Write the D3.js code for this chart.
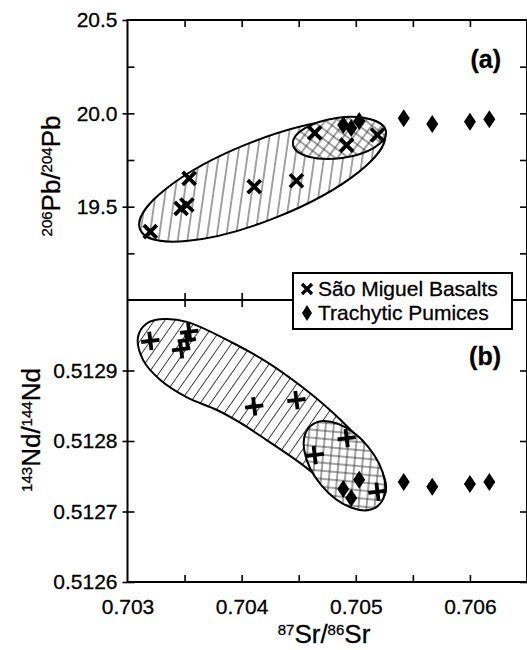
<!DOCTYPE html>
<html>
<head>
<meta charset="utf-8">
<script src="https://cdn.jsdelivr.net/npm/d3@7"></script>
<style>
  body { margin: 0; background: #fff; }
  svg { display: block; font-family: "Liberation Sans", Arial, sans-serif; }
  svg text { stroke: #000; stroke-width: 0.3px; }
</style>
</head>
<body>
<div id="chart"></div>
<script>
// ---- data ----
// Sao Miguel basalts (same samples in both panels)
const basaltSr = [0.70320, 0.70347, 0.70352, 0.70354, 0.70411, 0.70448, 0.70464, 0.70492, 0.70519];
const basaltPb = [19.366, 19.491, 19.509, 19.652, 19.607, 19.639, 19.895, 19.830, 19.884];
const basaltNd = [0.512942, 0.512930, 0.512943, 0.512955, 0.512849, 0.512858, 0.512780, 0.512804, 0.512728];

// trachytic pumices
const pumiceSr = [0.70489, 0.70496, 0.70503, 0.70542, 0.70567, 0.70600, 0.70617];
const pumicePb = [19.938, 19.921, 19.959, 19.973, 19.943, 19.955, 19.968];
const pumiceNd = [0.512732, 0.512719, 0.512745, 0.512742, 0.512735, 0.512739, 0.512742];

// ticks
const srTicks = [0.703, 0.704, 0.705, 0.706];
const srAllTicks = [0.7035, 0.704, 0.7045, 0.705, 0.7055, 0.706];
const pbTicks = [19.5, 20.0, 20.5];
const pbAllTicks = [19.25, 19.5, 19.75, 20.0, 20.25];
const ndTicks = [0.5126, 0.5127, 0.5128, 0.5129];

// fields: centre, end of long axis (data units) and axis ratio
const pbFieldBasalt = {cx: 0.70418, cy: 19.64, ex: 0.70525, ey: 19.902, ratio: 0.3};
const pbFieldPumice = {cx: 0.704857, cy: 19.868, ex: 0.705265, ey: 19.9027, ratio: 0.43};
const ndFieldPumice = {cx: 0.704901, cy: 0.512765, ex: 0.705194, ey: 0.512708, ratio: 0.58};
// basalt field in (b) is bent, so it is kept as an outline
const ndFieldSr = [0.703092, 0.703171, 0.703311, 0.703521, 0.703924, 0.704222, 0.704511, 0.704800, 0.705037, 0.705212, 0.705265,
                   0.705238, 0.705151, 0.704976, 0.704800, 0.704511, 0.704222, 0.703986, 0.703784, 0.703521, 0.703285, 0.703136];
const ndFieldNd = [0.5129475, 0.512967, 0.512973, 0.512969, 0.512939, 0.512912, 0.512879, 0.512840, 0.512801, 0.512763, 0.512735,
                   0.512719, 0.512712, 0.512719, 0.512733, 0.512769, 0.512801, 0.512826, 0.512844, 0.512862, 0.512887, 0.512915];

const legendLabels = ["São Miguel Basalts", "Trachytic Pumices"];

// ---- chart ----
const width = 527, height = 650;
const left = 127.5, right = 527, topA = 20, mid = 300, bottomB = 582;

const x = d3.scaleLinear().domain([0.703, 0.7065]).range([left, right]);
const yA = d3.scaleLinear().domain([19.0, 20.5]).range([mid, topA]);
const yB = d3.scaleLinear().domain([0.5126, 0.5130]).range([bottomB, mid]);

const svg = d3.select("#chart").append("svg")
    .attr("width", width)
    .attr("height", height);

svg.append("rect").attr("width", width).attr("height", height).attr("fill", "#fff");

// hatch patterns
const defs = svg.append("defs");
function hatch(id, size, angle, both) {
    const p = defs.append("pattern")
        .attr("id", id)
        .attr("patternUnits", "userSpaceOnUse")
        .attr("width", size).attr("height", size)
        .attr("patternTransform", "rotate(" + angle + ")");
    p.append("line").attr("x1", size / 2).attr("x2", size / 2).attr("y1", 0).attr("y2", size)
        .attr("stroke", "#333").attr("stroke-width", 0.9);
    if (both) {
        p.append("line").attr("y1", size / 2).attr("y2", size / 2).attr("x1", 0).attr("x2", size)
            .attr("stroke", "#333").attr("stroke-width", 0.9);
    }
}
hatch("hatchA", 9.5, 30, false);
hatch("hatchB", 8.5, 35, false);
hatch("cross", 8, 45, true);

function ellipse(g, f, ys, pattern) {
    const cx = x(f.cx), cy = ys(f.cy), ex = x(f.ex), ey = ys(f.ey);
    const a = Math.hypot(ex - cx, ey - cy);
    const ang = Math.atan2(ey - cy, ex - cx) * 180 / Math.PI;
    const t = "rotate(" + ang + "," + cx + "," + cy + ")";
    g.append("ellipse").attr("cx", cx).attr("cy", cy).attr("rx", a).attr("ry", a * f.ratio)
        .attr("transform", t).attr("fill", "#fff");
    g.append("ellipse").attr("cx", cx).attr("cy", cy).attr("rx", a).attr("ry", a * f.ratio)
        .attr("transform", t).attr("fill", "url(#" + pattern + ")")
        .attr("stroke", "#000").attr("stroke-width", 2);
}

const fields = svg.append("g");

// panel (a) fields
ellipse(fields, pbFieldBasalt, yA, "hatchA");
ellipse(fields, pbFieldPumice, yA, "cross");

// panel (b) fields
const outline = ndFieldSr.map((d, i) => [x(d), yB(ndFieldNd[i])]);
fields.append("path").attr("d", d3.line().curve(d3.curveCatmullRomClosed)(outline)).attr("fill", "#fff");
fields.append("path").attr("d", d3.line().curve(d3.curveCatmullRomClosed)(outline))
    .attr("fill", "url(#hatchB)").attr("stroke", "#000").attr("stroke-width", 2);
ellipse(fields, ndFieldPumice, yB, "cross");

// markers
const crossPath = "M-6.5,-6.5L6.5,6.5M-6.5,6.5L6.5,-6.5";
const diamondPath = "M0,-9L6,0L0,9L-6,0Z";

const pts = svg.append("g");
pts.selectAll(".dia-a").data(pumiceSr).enter().append("path")
    .attr("class", "dia-a")
    .attr("d", diamondPath)
    .attr("transform", (d, i) => "translate(" + x(d) + "," + yA(pumicePb[i]) + ")")
    .attr("fill", "#000");
pts.selectAll(".dia-b").data(pumiceSr).enter().append("path")
    .attr("class", "dia-b")
    .attr("d", diamondPath)
    .attr("transform", (d, i) => "translate(" + x(d) + "," + yB(pumiceNd[i]) + ")")
    .attr("fill", "#000");
pts.selectAll(".x-a").data(basaltSr).enter().append("path")
    .attr("class", "x-a")
    .attr("d", crossPath)
    .attr("transform", (d, i) => "translate(" + x(d) + "," + yA(basaltPb[i]) + ")")
    .attr("stroke", "#000").attr("stroke-width", 3.8).attr("fill", "none");
pts.selectAll(".x-b").data(basaltSr).enter().append("path")
    .attr("class", "x-b")
    .attr("d", crossPath)
    .attr("transform", (d, i) => "translate(" + x(d) + "," + yB(basaltNd[i]) + ") rotate(38)")
    .attr("stroke", "#000").attr("stroke-width", 3.8).attr("fill", "none");

// axes
function axis(gen, tx, ty) {
    const g = svg.append("g").attr("transform", "translate(" + tx + "," + ty + ")").call(gen);
    g.select(".domain").remove();
    g.selectAll("line").attr("stroke", "#000").attr("stroke-width", 1.6);
    g.selectAll("text").attr("font-size", 21).attr("fill", "#000")
        .attr("font-family", "'Liberation Sans', Arial, sans-serif");
    return g;
}
// x ticks (inward), both panels
axis(d3.axisTop(x).tickValues(srAllTicks).tickSize(-7).tickFormat(""), 0, topA);
axis(d3.axisBottom(x).tickValues(srAllTicks).tickSize(-7).tickFormat(""), 0, mid);
axis(d3.axisTop(x).tickValues(srAllTicks).tickSize(-7).tickFormat(""), 0, mid);
axis(d3.axisBottom(x).tickValues(srAllTicks).tickSize(-7).tickFormat(""), 0, bottomB);
axis(d3.axisBottom(x).tickValues(srTicks).tickSize(0).tickPadding(17).tickFormat(d3.format(".3f")), 0, bottomB);

// y panel (a)
axis(d3.axisLeft(yA).tickValues(pbAllTicks).tickSize(-7).tickFormat(""), left, 0);
axis(d3.axisLeft(yA).tickValues(pbTicks).tickSize(5).tickPadding(5).tickFormat(d3.format(".1f")), left, 0);
axis(d3.axisRight(yA).tickValues(pbAllTicks).tickSize(-7).tickFormat(""), right, 0);

// y panel (b)
axis(d3.axisLeft(yB).tickValues(ndTicks).tickSize(-7).tickFormat(""), left, 0);
axis(d3.axisLeft(yB).tickValues(ndTicks).tickSize(5).tickPadding(5).tickFormat(d3.format(".4f")), left, 0);
axis(d3.axisRight(yB).tickValues(ndTicks).tickSize(-7).tickFormat(""), right, 0);

// frame
const frame = svg.append("g").attr("stroke", "#000").attr("stroke-width", 2).attr("fill", "none");
frame.append("line").attr("x1", left).attr("x2", right).attr("y1", topA).attr("y2", topA);
frame.append("line").attr("x1", left).attr("x2", right).attr("y1", mid).attr("y2", mid);
frame.append("line").attr("x1", left).attr("x2", right).attr("y1", bottomB).attr("y2", bottomB);
frame.append("line").attr("x1", left).attr("x2", left).attr("y1", topA - 1).attr("y2", bottomB + 1);
frame.append("line").attr("x1", right).attr("x2", right).attr("y1", topA).attr("y2", bottomB);

// axis titles with superscripts
function title(parts, tx, ty, rot) {
    const t = svg.append("text")
        .attr("transform", "translate(" + tx + "," + ty + ") rotate(" + rot + ")")
        .attr("text-anchor", "middle")
        .attr("font-size", 26)
        .attr("fill", "#000");
    let up = false;
    parts.forEach(p => {
        const sup = p[1];
        const s = t.append("tspan").text(p[0]);
        if (sup) s.attr("font-size", 15);
        if (sup && !up) s.attr("dy", -8);
        if (!sup && up) s.attr("dy", 8);
        up = sup;
    });
}
title([["206", 1], ["Pb/", 0], ["204", 1], ["Pb", 0]], 60, 176, -90);
title([["143", 1], ["Nd/", 0], ["144", 1], ["Nd", 0]], 40, 430, -90);
title([["87", 1], ["Sr/", 0], ["86", 1], ["Sr", 0]], 324, 643, 0);

// panel letters
svg.append("text").attr("x", 501).attr("y", 68).attr("text-anchor", "end")
    .attr("font-size", 25).attr("font-weight", "bold").text("(a)");
svg.append("text").attr("x", 501).attr("y", 365).attr("text-anchor", "end")
    .attr("font-size", 25).attr("font-weight", "bold").text("(b)");

// legend
const lg = svg.append("g").attr("transform", "translate(293,273)");
lg.append("rect").attr("width", 219).attr("height", 56)
    .attr("fill", "#fff").attr("stroke", "#000").attr("stroke-width", 2);
lg.append("path").attr("d", "M-5,-5L5,5M-5,5L5,-5").attr("transform", "translate(14,16)")
    .attr("stroke", "#000").attr("stroke-width", 3.2);
lg.append("path").attr("d", "M0,-8L5,0L0,8L-5,0Z").attr("transform", "translate(14,40)").attr("fill", "#000");
lg.selectAll(".lt").data(legendLabels).enter().append("text")
    .attr("class", "lt")
    .attr("x", 25)
    .attr("y", (d, i) => 23 + i * 24)
    .attr("font-size", 21)
    .attr("fill", "#000")
    .text(d => d);
</script>
</body>
</html>
